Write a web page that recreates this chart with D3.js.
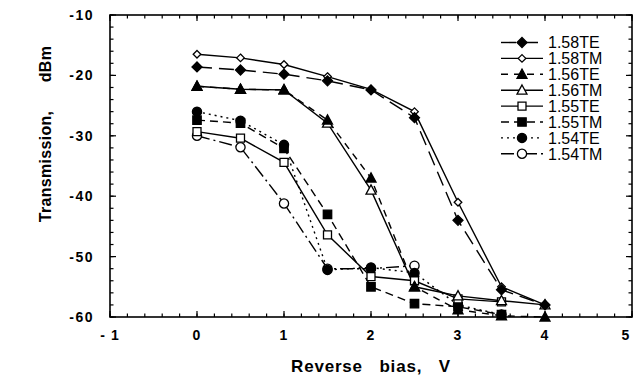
<!DOCTYPE html>
<html>
<head>
<meta charset="utf-8">
<script src="https://cdn.jsdelivr.net/npm/d3@7"></script>
<style>
  html, body { margin: 0; padding: 0; background: #fff; }
  svg { display: block; }
  text { font-family: "Liberation Sans", Arial, Helvetica, sans-serif; fill: #000; }
</style>
</head>
<body>
<svg id="chart" width="634" height="380"></svg>
<script>
// Reverse bias (V) at which each transmission was measured
const bias = [0, 0.5, 1, 1.5, 2, 2.5, 3, 3.5, 4];

// Transmission (dBm) per wavelength / polarisation
const t158TE = [-18.6, -19.1, -19.8, -20.9, -22.4, -27.0, -44.0, -55.5, -58.0];
const t158TM = [-16.5, -17.1, -18.2, -20.2, -22.3, -26.0, -41.0, -55.0, -58.0];
const t156TE = [-21.8, -22.3, -22.4, -27.4, -37.0, -55.0, -58.8, -59.8, -60.0];
const t156TM = [-21.8, -22.3, -22.4, -27.9, -39.0, -55.0, -56.5, -57.3, -58.0];
const t155TE = [-29.3, -30.4, -34.4, -46.4, -53.3, -54.0, -57.0, -57.5];
const t155TM = [-27.4, -27.9, -32.1, -43.0, -55.0, -57.8, -58.3, -59.6];
const t154TE = [-26.0, -27.5, -31.5, -52.2, -51.8, -52.7, -58.0, -59.6];
const t154TM = [-30.0, -31.9, -41.2, -52.0, -52.0, -51.5];

const seriesNames = ["1.58TE", "1.58TM", "1.56TE", "1.56TM", "1.55TE", "1.55TM", "1.54TE", "1.54TM"];
const seriesValues = [t158TE, t158TM, t156TE, t156TM, t155TE, t155TM, t154TE, t154TM];

// Axis ticks
const xTicks = [-1, 0, 1, 2, 3, 4, 5];
const yTicks = [-10, -20, -30, -40, -50, -60];

// Drawing style per series: marker shape, fill, dash pattern
const styles = [
  { shape: "diamond",  filled: true,  dash: "15,7",       size: 5.0 },
  { shape: "diamond",  filled: false, dash: null,         size: 3.8 },
  { shape: "triangle", filled: true,  dash: "7,6",        size: 5.0 },
  { shape: "triangle", filled: false, dash: null,         size: 5.0 },
  { shape: "square",   filled: false, dash: null,         size: 4.0 },
  { shape: "square",   filled: true,  dash: "8,5",        size: 4.2 },
  { shape: "circle",   filled: true,  dash: "2,4",        size: 4.6 },
  { shape: "circle",   filled: false, dash: "13,4,2,4",   size: 4.6 }
];

const svg = d3.select("#chart");
const m = { left: 110, right: 632, top: 15, bottom: 317 };

const x = d3.scaleLinear().domain([-1, 5]).range([m.left, m.right]);
const y = d3.scaleLinear().domain([-60, -10]).range([m.bottom, m.top]);

function markerPath(shape, r) {
  const p = d3.path();
  if (shape === "diamond") {
    p.moveTo(0, -r); p.lineTo(r, 0); p.lineTo(0, r); p.lineTo(-r, 0); p.closePath();
  } else if (shape === "triangle") {
    p.moveTo(0, -r * 1.05); p.lineTo(r, r * 0.8); p.lineTo(-r, r * 0.8); p.closePath();
  } else if (shape === "square") {
    p.rect(-r, -r, 2 * r, 2 * r);
  } else {
    p.arc(0, 0, r, 0, 2 * Math.PI); p.closePath();
  }
  return p.toString();
}

// Ticks on all four sides, pointing inward
const g = svg.append("g");
const xMinor = d3.range(-1, 5.0001, 0.2);
const yMinor = d3.range(-60, -9.999, 2);
function tickLines(vals, scale, horizontal, len) {
  vals.forEach(v => {
    const p = scale(v);
    if (horizontal) {
      g.append("line").attr("x1", p).attr("x2", p).attr("y1", m.bottom).attr("y2", m.bottom - len);
      g.append("line").attr("x1", p).attr("x2", p).attr("y1", m.top).attr("y2", m.top + len);
    } else {
      g.append("line").attr("y1", p).attr("y2", p).attr("x1", m.left).attr("x2", m.left + len);
      g.append("line").attr("y1", p).attr("y2", p).attr("x1", m.right).attr("x2", m.right - len);
    }
  });
}
tickLines(xMinor, x, true, 3.5);
tickLines(xTicks, x, true, 6);
tickLines(yMinor, y, false, 3.5);
tickLines(yTicks, y, false, 6);
g.selectAll("line").attr("stroke", "#000").attr("stroke-width", 1.2);

// Frame
svg.append("rect")
  .attr("x", m.left).attr("y", m.top)
  .attr("width", m.right - m.left).attr("height", m.bottom - m.top)
  .attr("fill", "none").attr("stroke", "#000").attr("stroke-width", 1.6);

// Tick labels (the last one sits against the page edge, kept inside it)
svg.append("g").selectAll("text").data(xTicks).join("text")
  .attr("x", d => Math.min(x(d), 626)).attr("y", 340)
  .attr("text-anchor", "middle")
  .style("font-size", "14px").style("font-weight", "bold").style("letter-spacing", "1px")
  .text(d => d < 0 ? "- " + Math.abs(d) : String(d));

svg.append("g").selectAll("text").data(yTicks).join("text")
  .attr("x", 94).attr("y", d => y(d) + 5)
  .attr("text-anchor", "end")
  .style("font-size", "14px").style("font-weight", "bold").style("letter-spacing", "1.5px")
  .text(d => "-" + Math.abs(d));

// Axis titles
svg.append("text")
  .attr("x", 371).attr("y", 372)
  .attr("text-anchor", "middle")
  .style("font-size", "17px").style("font-weight", "bold").style("letter-spacing", "0.8px")
  .style("white-space", "pre")
  .text("Reverse   bias,   V");

svg.append("text")
  .attr("transform", "translate(51,134) rotate(-90)")
  .attr("text-anchor", "middle")
  .style("font-size", "16px").style("font-weight", "bold").style("letter-spacing", "0.3px")
  .style("white-space", "pre")
  .text("Transmission,      dBm");

// Series lines and markers
const line = d3.line().x(d => x(d[0])).y(d => y(d[1]));
const plot = svg.append("g");
seriesValues.forEach((vals, i) => {
  const st = styles[i];
  const pts = vals.map((v, j) => [bias[j], v]);
  plot.append("path")
    .attr("d", line(pts))
    .attr("fill", "none").attr("stroke", "#000").attr("stroke-width", 1.4)
    .attr("stroke-dasharray", st.dash);
});
// markers drawn last-series-first so the filled symbols end up on top
d3.range(seriesValues.length - 1, -1, -1).forEach(i => {
  const st = styles[i];
  const vals = seriesValues[i];
  plot.append("g").selectAll("path").data(vals.map((v, j) => [bias[j], v])).join("path")
    .attr("transform", d => `translate(${x(d[0])},${y(d[1])})`)
    .attr("d", markerPath(st.shape, st.size))
    .attr("fill", st.filled ? "#000" : "#fff")
    .attr("stroke", "#000").attr("stroke-width", 1.3);
});

// Legend
const legend = svg.append("g");
seriesNames.forEach((name, i) => {
  const st = styles[i];
  const ly = 42.5 + i * 15.9;
  const row = legend.append("g").attr("transform", `translate(0,${ly})`);
  row.append("line").attr("x1", 501).attr("x2", 543).attr("y1", 0).attr("y2", 0)
    .attr("stroke", "#000").attr("stroke-width", 1.4).attr("stroke-dasharray", st.dash);
  row.append("path").attr("transform", "translate(522,0)")
    .attr("d", markerPath(st.shape, st.size))
    .attr("fill", st.filled ? "#000" : "#fff")
    .attr("stroke", "#000").attr("stroke-width", 1.3);
  row.append("text").attr("x", 548).attr("y", 5.8)
    .style("font-size", "16px")
    .text(name);
});
</script>
</body>
</html>
